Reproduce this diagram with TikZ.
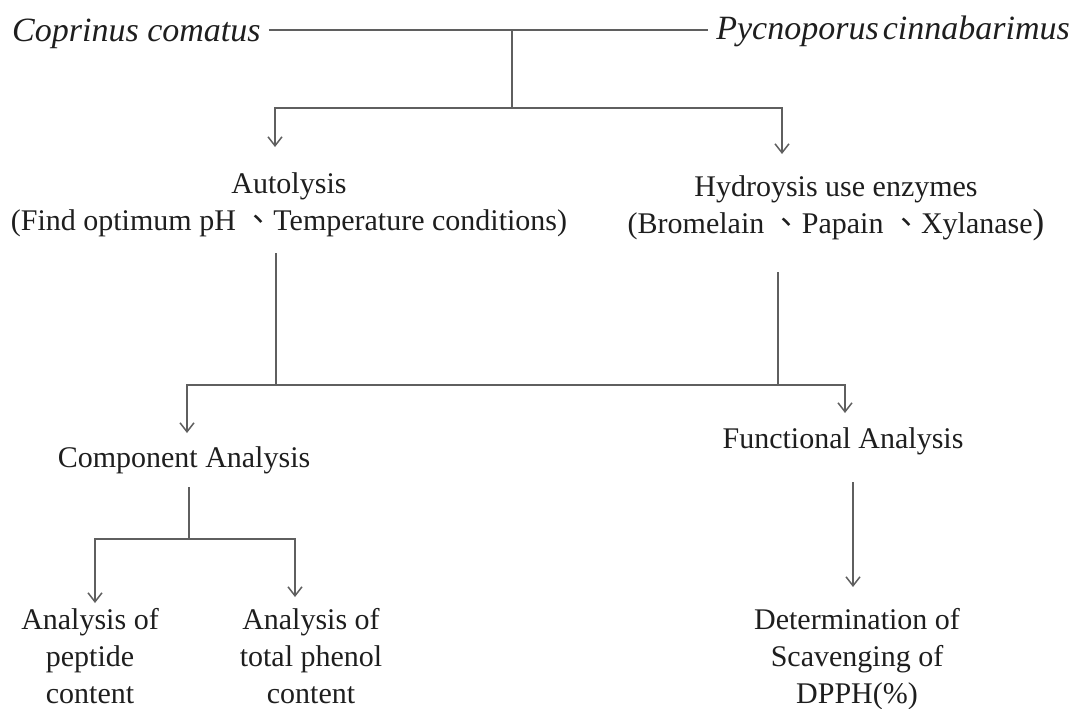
\documentclass[tikz,border=0pt]{standalone}
\usepackage{fontspec}
\setmainfont{Liberation Serif}
\newfontfamily\cjk{Noto Sans CJK TC}
\usepackage{tikz}
\usetikzlibrary{arrows.meta,positioning}
\definecolor{FlowLine}{RGB}{95,95,95}
\definecolor{FlowText}{RGB}{30,30,30}
\newcommand{\ideocomma}{{\cjk 、}}
\tikzset{
  stxt/.style={text=FlowText,inner sep=0pt,align=center,font=\fontsize{30}{37}\selectfont},
  itxt/.style={text=FlowText,inner ysep=0pt,inner xsep=8pt,font=\fontsize{34}{38}\selectfont\itshape},
  ln/.style={FlowLine,line width=1.8pt},
  arr/.style={ln,-{Straight Barb[length=9pt,width=14pt,line width=1.5pt]}},
}

\begin{document}
\begin{tikzpicture}[x=1pt,y=-1pt]
    \useasboundingbox (0,0) rectangle (1082,709);
    % species
    \node[itxt,anchor=base west] (cop) at (4,42) {Coprinus comatus};
    \node[itxt,anchor=base east] (pyc) at (1078,40) {Pycnoporus\hspace{0.12em}cinnabarimus};
    % treatments
    \node[stxt,anchor=base] (auto) at (289,230) {Autolysis\\(Find optimum pH \ideocomma Temperature conditions)};
    \node[stxt,anchor=base] (hyd) at (836,233) {Hydroysis use enzymes\\(Bromelain \ideocomma Papain \ideocomma Xylanase{\fontsize{35}{37}\selectfont)}};
    % analyses
    \node[stxt,anchor=base] (comp) at (184,467) {Component Analysis};
    \node[stxt,anchor=base] (func) at (843,448) {Functional Analysis};
    \node[stxt,anchor=base] (pep) at (90,703) {Analysis of\\peptide\\content};
    \node[stxt,anchor=base] (phe) at (311,703) {Analysis of\\total phenol\\content};
    \node[stxt,anchor=base] (dpph) at (857,703) {Determination of\\Scavenging of\\DPPH(\%)};
    % junctions and tips
    \coordinate (top) at (512,30);
    \coordinate (br1) at (512,108);
    \coordinate (tipA) at (275,147);
    \coordinate (tipH) at (782,154);
    \coordinate (stemA) at (276,253);
    \coordinate (brA) at (276,385);
    \coordinate (stemH) at (778,272);
    \coordinate (brH) at (778,385);
    \coordinate (tipC) at (187,433);
    \coordinate (tipF) at (845,413);
    \coordinate (stemC) at (189,487);
    \coordinate (brC) at (189,539);
    \coordinate (tipP) at (95,603);
    \coordinate (tipT) at (295,597);
    \coordinate (stemF) at (853,482);
    \coordinate (tipD) at (853,587);
    % connectors
    \draw[ln] (cop.east |- top) -- (pyc.west |- top);
    \draw[ln] (top) -- (br1);
    \draw[arr] (br1) -| (tipA);
    \draw[arr] (br1) -| (tipH);
    \draw[ln] (stemA) -- (brA);
    \draw[ln] (stemH) -- (brH);
    \draw[arr] (brH) -| (tipC);
    \draw[arr] (brA) -| (tipF);
    \draw[ln] (stemC) -- (brC);
    \draw[arr] (brC) -| (tipP);
    \draw[arr] (brC) -| (tipT);
    \draw[arr] (stemF) -- (tipD);
  \end{tikzpicture}
\end{document}
